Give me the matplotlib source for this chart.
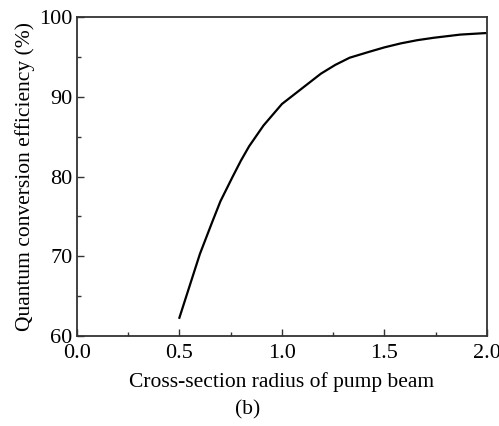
import matplotlib
matplotlib.use("Agg")
import matplotlib.pyplot as plt
from matplotlib.ticker import MultipleLocator, FormatStrFormatter

# curve
radius = [0.50, 0.55, 0.60, 0.66, 0.70, 0.76, 0.80, 0.84, 0.91, 1.00, 1.05,
          1.09, 1.19, 1.26, 1.33, 1.42, 1.50, 1.58, 1.66, 1.74, 1.87, 2.00]
efficiency = [62.3, 66.3, 70.3, 74.3, 76.9, 80.0, 82.0, 83.8, 86.4, 89.1, 90.1,
              90.9, 92.9, 94.0, 94.9, 95.6, 96.2, 96.7, 97.1, 97.4, 97.8, 98.0]

plt.rcParams['font.family'] = ['Liberation Serif', 'DejaVu Serif']

fig = plt.figure(figsize=(4.99, 4.26), dpi=100)
ax = fig.add_axes([0.154, 0.211, 0.822, 0.749])

ax.plot(radius, efficiency, color="black", linewidth=1.6)

ax.set_xlim(0.0, 2.0)
ax.set_ylim(60, 100)
ax.xaxis.set_major_locator(MultipleLocator(0.5))
ax.xaxis.set_minor_locator(MultipleLocator(0.25))
ax.yaxis.set_major_locator(MultipleLocator(10))
ax.yaxis.set_minor_locator(MultipleLocator(5))
ax.xaxis.set_major_formatter(FormatStrFormatter("%.1f"))

ax.tick_params(which="both", direction="in", top=False, right=False,
               labelsize=16, color="#333333")
ax.tick_params(which="major", length=5, width=1)
ax.tick_params(axis="x", which="major", pad=6)
ax.tick_params(axis="y", which="major", pad=3)
ax.tick_params(which="minor", length=3, width=1)

for s in ax.spines.values():
    s.set_color("#333333")
    s.set_linewidth(1.3)

ax.set_xlabel("Cross-section radius of pump beam", fontsize=15.5, labelpad=6)
ax.set_ylabel("Quantum conversion efficiency (%)", fontsize=15.5, labelpad=3)

fig.text(0.497, 0.038, "(b)", fontsize=15.5, ha="center", va="center")

fig.savefig("out.png", dpi=100)
plt.close()
